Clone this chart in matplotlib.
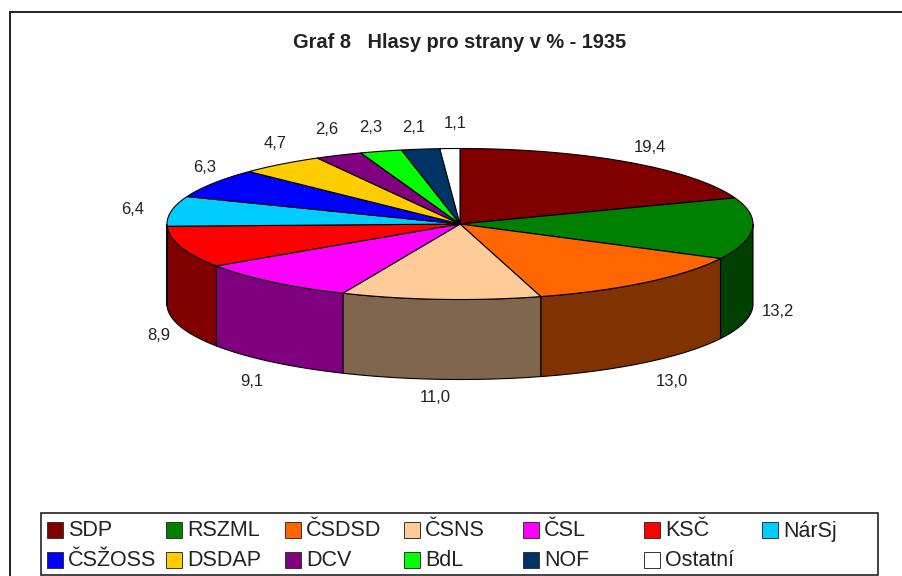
import numpy as np
import matplotlib
matplotlib.use("Agg")
import matplotlib.pyplot as plt
from matplotlib.patches import Rectangle

plt.rcParams["font.family"] = ["Liberation Sans", "DejaVu Sans"]

# Data
parties = ["SDP", "RSZML", "ČSDSD", "ČSNS", "ČSL", "KSČ", "NárSj",
           "ČSŽOSS", "DSDAP", "DCV", "BdL", "NOF", "Ostatní"]
shares = [19.4, 13.2, 13.0, 11.0, 9.1, 8.9, 6.4, 6.3, 4.7, 2.6, 2.3, 2.1, 1.1]
share_labels = ["19,4", "13,2", "13,0", "11,0", "9,1", "8,9", "6,4",
                "6,3", "4,7", "2,6", "2,3", "2,1", "1,1"]
colors = ["#800000", "#008000", "#FF6600", "#FFCC99", "#FF00FF", "#FF0000", "#00CCFF",
          "#0000FF", "#FFCC00", "#800080", "#00FF00", "#003366", "#FFFFFF"]

# label placement, pixels
label_pos = [(650, 148), (778, 312), (672, 381), (435, 398), (252, 381), (159, 336), (133, 210),
             (205, 167), (275, 144), (327, 130), (371, 128), (414, 127), (455, 124)]

# pie geometry, pixels
cx, cy = 460, 224
rx, ry = 293, 75.5
depth = 80


def rim(a):
    # a is clockwise from 12 o'clock
    return cx + rx * np.sin(a), cy - ry * np.cos(a)


def darker(col):
    rgb = np.array(matplotlib.colors.to_rgb(col)) * 0.5
    return tuple(rgb)


fig = plt.figure(figsize=(9.02, 5.76), dpi=100)
ax = fig.add_axes([0, 0, 1, 1])
ax.set_xlim(0, 902)
ax.set_ylim(576, 0)
ax.axis("off")

# outer frame, only top and left are in the picture
ax.plot([10, 10, 902], [576, 12, 12], color="#222222", lw=1.4, solid_joinstyle="miter")

title = "Graf 8   Hlasy pro strany v % - 1935"
ax.text(460, 42, title, ha="center", va="center", fontsize=14.4, fontweight="bold", color="#222222")

angles = np.cumsum([0] + shares) / sum(shares) * 2 * np.pi

# side walls, only the part facing the viewer
for i, col in enumerate(colors):
    start = max(angles[i], np.pi / 2)
    end = min(angles[i + 1], 3 * np.pi / 2)
    if end <= start:
        continue
    a = np.linspace(start, end, 60)
    x, y = rim(a)
    ax.fill(np.r_[x, x[::-1]], np.r_[y, y[::-1] + depth],
            fc=darker(col), ec="black", lw=0.8, zorder=2)

# top of the pie
for i, col in enumerate(colors):
    a = np.linspace(angles[i], angles[i + 1], 80)
    x, y = rim(a)
    ax.fill(np.r_[cx, x], np.r_[cy, y], fc=col, ec="black", lw=0.8, zorder=3)

for lab, (px, py) in zip(share_labels, label_pos):
    ax.text(px, py, lab, ha="center", va="center", fontsize=12, color="#222222")

# legend box
ax.add_patch(Rectangle((41, 513), 837, 62, fc="white", ec="#222222", lw=1.2, zorder=4))
col_x = [47, 166, 285, 404, 523, 644, 762]
row_y = [530, 560]
for i, (name, col) in enumerate(zip(parties, colors)):
    lx = col_x[i % 7]
    ly = row_y[i // 7]
    ax.add_patch(Rectangle((lx, ly - 8), 16, 16, fc=col, ec="#333333", lw=0.7, zorder=5))
    ax.text(lx + 21, ly + 1, name, ha="left", va="center", fontsize=15.5, color="#222222", zorder=5)

fig.savefig("out.png", dpi=100)
